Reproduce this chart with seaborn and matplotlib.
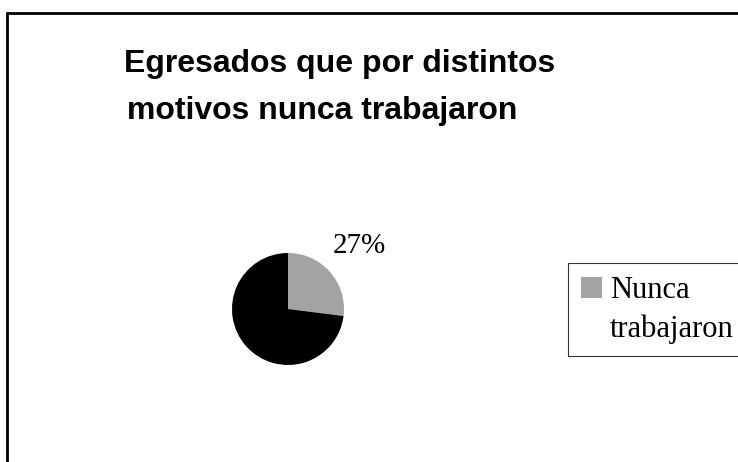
import matplotlib
matplotlib.use("Agg")
import matplotlib.pyplot as plt
import seaborn as sns
from matplotlib.lines import Line2D
from matplotlib.patches import Rectangle

# ============ Data ============
categorias = ["Nunca trabajaron", "Resto"]
porcentajes = [27, 73]
etiquetas = ["27%", ""]
colores = ["#a3a3a3", "#000000"]
leyenda = ["Nunca", "trabajaron"]

sns.set_theme(style="white")
plt.rcParams['font.family'] = ['Liberation Serif', 'DejaVu Serif']
plt.rcParams['text.color'] = 'black'

W, H = 738, 462
fig = plt.figure(figsize=(W / 100, H / 100), dpi=100)
fig.patch.set_facecolor("white")

# ---- frame (top and left border) ----
fig.add_artist(Line2D([7 / W, 7 / W], [0, 1 - 13 / H], color="black", lw=2))
fig.add_artist(Line2D([7 / W, 1], [1 - 13 / H, 1 - 13 / H], color="black", lw=2))

# ---- title ----
titulo = dict(ha="center", va="center", fontsize=23, fontweight="bold",
              color="black", family=["Liberation Sans", "DejaVu Sans"])
fig.text(340 / W, 1 - 64 / H, "Egresados que por distintos", **titulo)
fig.text(322 / W, 1 - 111 / H, "motivos nunca trabajaron", **titulo)

# ============ Pie ============
cx, cy, r = 288, 309, 56
ax = fig.add_axes([(cx - r) / W, (H - cy - r) / H, 2 * r / W, 2 * r / H])
wedges, texts = ax.pie(
    porcentajes,
    labels=etiquetas,
    colors=colores,
    startangle=90,
    counterclock=False,
    labeldistance=1.7,
    wedgeprops={"edgecolor": "none", "linewidth": 0},
    textprops={"fontsize": 21, "color": "black"},
)
for t in texts:
    t.set_ha("center")
ax.set_xlim(-1, 1)
ax.set_ylim(-1, 1)
ax.set_aspect("equal")
ax.axis("off")

# ============ Legend ============
vacio = Rectangle((0, 0), 1, 1, facecolor="none", edgecolor="none")
leg = fig.legend(
    [wedges[0], vacio], leyenda,
    loc="upper left",
    bbox_to_anchor=(568 / W, 1 - 263 / H),
    borderaxespad=0,
    fontsize=22,
    frameon=True,
    fancybox=False,
    edgecolor="black",
    handlelength=0.68,
    handleheight=0.68,
    handletextpad=0.28,
    borderpad=0.42,
    labelspacing=0.3,
)
leg.get_frame().set_linewidth(0.8)
for t in leg.get_texts():
    t.set_color("black")

fig.savefig("out.png", dpi=100, facecolor="white")
